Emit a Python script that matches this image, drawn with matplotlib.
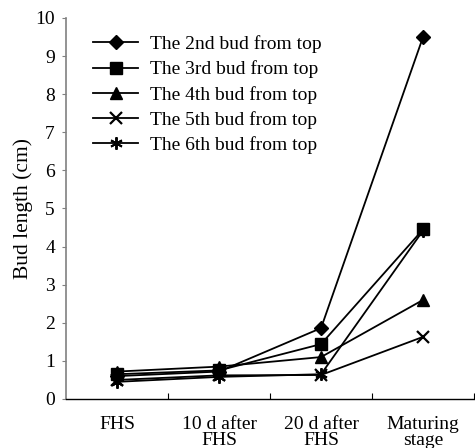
import matplotlib
matplotlib.use("Agg")
import matplotlib.pyplot as plt
import numpy as np

categories = ["FHS", "10 d after\nFHS", "20 d after\nFHS", "Maturing\nstage"]
series_names = ["The 2nd bud from top", "The 3rd bud from top", "The 4th bud from top",
                "The 5th bud from top", "The 6th bud from top"]
bud2 = [0.60, 0.72, 1.86, 9.50]
bud3 = [0.65, 0.75, 1.44, 4.45]
bud4 = [0.72, 0.85, 1.10, 2.60]
bud5 = [0.50, 0.62, 0.63, 1.63]
bud6 = [0.45, 0.58, 0.65, 4.42]
y_ticks = list(range(0, 11))

plt.rcParams['font.family'] = ['Liberation Serif', 'DejaVu Serif']
fig = plt.figure(figsize=(4.75, 4.48), dpi=100)
ax = fig.add_axes([0.139, 0.1094, 0.859, 0.8506])

x = np.arange(len(categories))
styles = [
    dict(marker='D', ms=7),
    dict(marker='s', ms=8.5),
    dict(marker='^', ms=8.5),
    dict(marker='x', ms=8, mew=1.6),
    dict(marker=(6, 2, 0), ms=9, mew=1.4),
]
data = [bud2, bud3, bud4, bud5, bud6]
for name, vals, st in zip(series_names, data, styles):
    ax.plot(x, vals, color='black', lw=1.3, mfc='black', mec='black', label=name, **st)

ax.set_xlim(-0.5, 3.5)
ax.set_ylim(0, 10)
ax.set_yticks(y_ticks)
ax.set_xticks(x)
ax.set_xticklabels(categories, fontsize=14, linespacing=0.95)
ax.tick_params(axis='x', length=0, pad=12)
ax.set_xticks([0.5, 1.5, 2.5, 3.5], minor=True)
ax.tick_params(axis='x', which='minor', direction='in', length=4, width=0.8)
ax.tick_params(axis='y', direction='out', length=3, width=0.8, color='#808080', labelsize=14, pad=5)
for s in ['top', 'right']:
    ax.spines[s].set_visible(False)
ax.spines['left'].set_color('#808080')
ax.spines['left'].set_linewidth(1.2)
ax.spines['bottom'].set_color('black')
ax.spines['bottom'].set_linewidth(1.0)
ax.set_ylabel("Bud length (cm)", fontsize=15.5, labelpad=2)

ax.legend(loc='upper left', bbox_to_anchor=(0.048, 0.975), frameon=False, fontsize=14,
          handlelength=2.3, handletextpad=0.6, labelspacing=0.38, borderaxespad=0)

fig.savefig("out.png", dpi=100)
